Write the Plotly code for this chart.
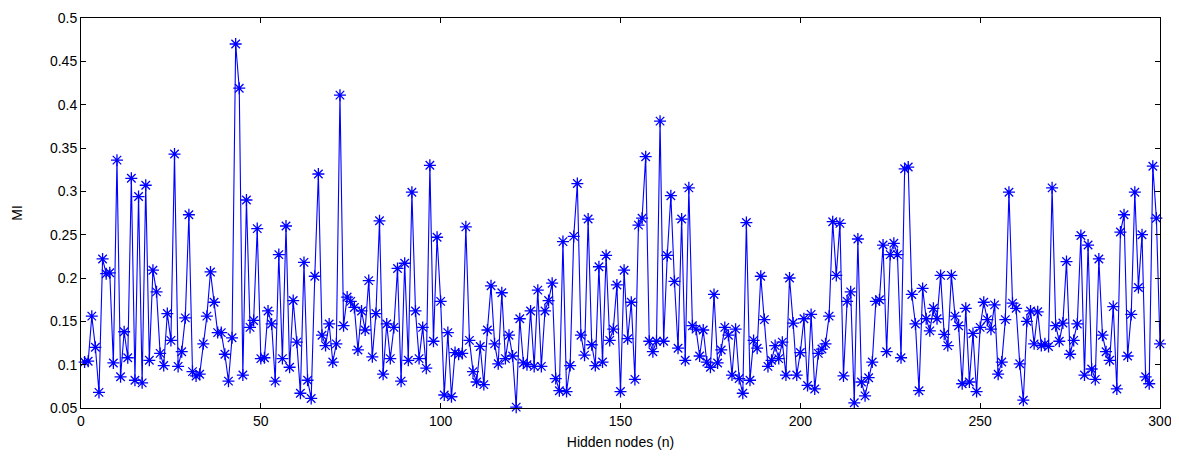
import plotly.graph_objects as go

mi_values = [
    0.103, 0.104, 0.156, 0.120, 0.068, 0.222, 0.205, 0.206, 0.102, 0.336,
    0.086, 0.138, 0.108, 0.315, 0.082, 0.294, 0.079, 0.307, 0.105, 0.209,
    0.184, 0.113, 0.099, 0.159, 0.128, 0.343, 0.098, 0.115, 0.154, 0.273,
    0.092, 0.087, 0.089, 0.124, 0.156, 0.207, 0.172, 0.137, 0.137, 0.112,
    0.081, 0.131, 0.470, 0.419, 0.088, 0.290, 0.143, 0.151, 0.257, 0.107,
    0.108, 0.162, 0.147, 0.081, 0.227, 0.107, 0.260, 0.097, 0.174, 0.126,
    0.067, 0.218, 0.082, 0.061, 0.202, 0.320, 0.134, 0.122, 0.147, 0.103,
    0.124, 0.411, 0.145, 0.178, 0.173, 0.166, 0.117, 0.162, 0.140, 0.197,
    0.109, 0.159, 0.266, 0.089, 0.147, 0.107, 0.143, 0.211, 0.081, 0.217,
    0.105, 0.299, 0.162, 0.107, 0.143, 0.096, 0.330, 0.127, 0.247, 0.173,
    0.065, 0.137, 0.063, 0.114, 0.112, 0.113, 0.259, 0.128, 0.092, 0.080,
    0.121, 0.077, 0.140, 0.191, 0.124, 0.101, 0.183, 0.107, 0.134, 0.110,
    0.051, 0.153, 0.102, 0.100, 0.162, 0.098, 0.186, 0.098, 0.162, 0.174,
    0.194, 0.084, 0.070, 0.242, 0.069, 0.099, 0.248, 0.309, 0.134, 0.111,
    0.268, 0.123, 0.099, 0.213, 0.103, 0.226, 0.128, 0.141, 0.192, 0.069,
    0.209, 0.130, 0.172, 0.083, 0.261, 0.269, 0.340, 0.127, 0.115, 0.127,
    0.381, 0.127, 0.226, 0.295, 0.196, 0.119, 0.268, 0.105, 0.304, 0.145,
    0.141, 0.110, 0.140, 0.103, 0.097, 0.181, 0.102, 0.117, 0.143, 0.134,
    0.088, 0.141, 0.084, 0.067, 0.264, 0.082, 0.128, 0.119, 0.202, 0.152,
    0.098, 0.105, 0.122, 0.107, 0.126, 0.088, 0.200, 0.148, 0.088, 0.114,
    0.153, 0.076, 0.158, 0.072, 0.113, 0.118, 0.124, 0.156, 0.265, 0.203,
    0.263, 0.087, 0.173, 0.184, 0.056, 0.245, 0.080, 0.064, 0.085, 0.103,
    0.173, 0.175, 0.238, 0.115, 0.227, 0.240, 0.227, 0.108, 0.326, 0.328,
    0.181, 0.147, 0.070, 0.188, 0.153, 0.139, 0.165, 0.153, 0.203, 0.135,
    0.122, 0.203, 0.156, 0.145, 0.078, 0.165, 0.080, 0.136, 0.069, 0.143,
    0.172, 0.152, 0.141, 0.169, 0.089, 0.103, 0.152, 0.299, 0.171, 0.165,
    0.101, 0.059, 0.150, 0.162, 0.124, 0.161, 0.122, 0.124, 0.121, 0.304,
    0.145, 0.127, 0.148, 0.219, 0.112, 0.128, 0.147, 0.249, 0.088, 0.238,
    0.095, 0.083, 0.222, 0.134, 0.115, 0.105, 0.167, 0.072, 0.253, 0.273,
    0.110, 0.158, 0.299, 0.189, 0.250, 0.086, 0.078, 0.329, 0.269, 0.124,
]
hidden_nodes = list(range(1, len(mi_values) + 1))

x_tick_vals = [0, 50, 100, 150, 200, 250, 300]
x_tick_text = ["0", "50", "100", "150", "200", "250", "300"]
y_tick_vals = [0.05, 0.1, 0.15, 0.2, 0.25, 0.3, 0.35, 0.4, 0.45, 0.5]
y_tick_text = ["0.05", "0.1", "0.15", "0.2", "0.25", "0.3", "0.35", "0.4", "0.45", "0.5"]

FONT = "Liberation Sans, Arial, sans-serif"

fig = go.Figure()
fig.add_trace(go.Scatter(
    x=hidden_nodes, y=mi_values, mode="lines+markers",
    line=dict(color="#0000ff", width=1.1),
    marker=dict(symbol="asterisk-open", size=10, color="#0000ff",
                line=dict(color="#0000ff", width=1.3)),
    showlegend=False, cliponaxis=False,
))

axis_common = dict(
    showline=True, linecolor="black", linewidth=1, mirror="ticks",
    ticks="inside", ticklen=5, tickcolor="black", tickwidth=1,
    showgrid=False, zeroline=False, automargin=False,
    ticklabeloverflow="allow",
    tickfont=dict(family=FONT, size=14, color="black"),
)

fig.update_xaxes(range=[0, 300], tickvals=x_tick_vals, ticktext=x_tick_text,
                 title=dict(text="Hidden nodes (n)", standoff=9,
                            font=dict(family=FONT, size=14, color="black")),
                 **axis_common)
fig.update_yaxes(range=[0.05, 0.5], tickvals=y_tick_vals, ticktext=y_tick_text,
                 title=dict(text="MI", standoff=24,
                            font=dict(family=FONT, size=14, color="black")),
                 **axis_common)

fig.update_layout(
    width=1163, height=442,
    margin=dict(l=73, r=11, t=10, b=42),
    paper_bgcolor="white", plot_bgcolor="white",
)

fig.write_html("out.html")
